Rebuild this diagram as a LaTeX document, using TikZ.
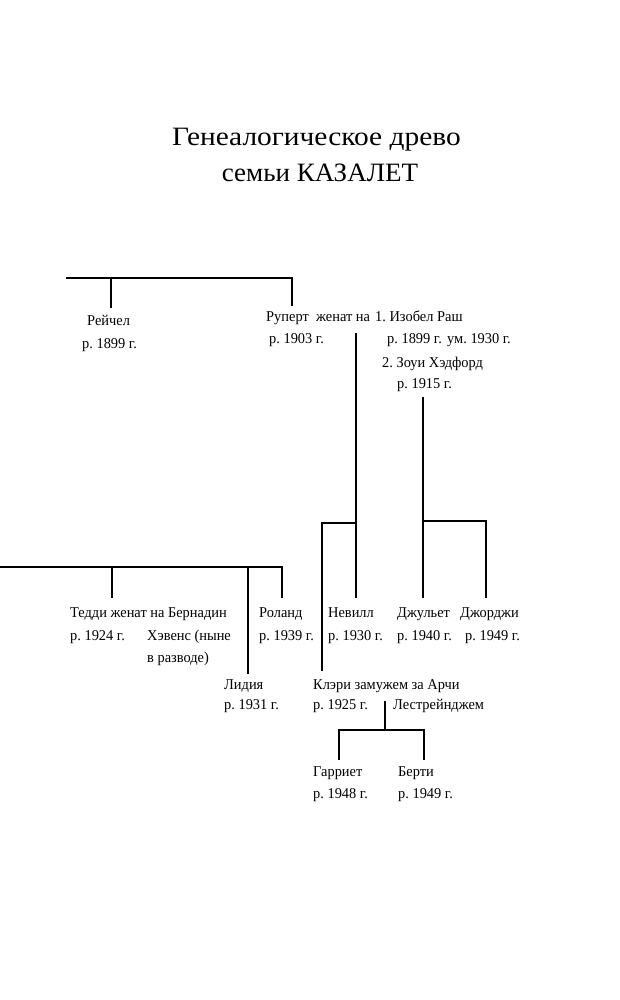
\documentclass[tikz,border=0pt]{standalone}
\usepackage{fontspec}
\setmainfont{Liberation Serif}[FakeStretch=0.96]
\newfontfamily\titlefont{Liberation Serif}[FakeStretch=1.11]
\newfontfamily\titlefontb{Liberation Serif}[FakeStretch=1.02]
\frenchspacing
\begin{document}
\begin{tikzpicture}[x=1pt, y=-1pt,
    txt/.style={anchor=base west, inner sep=0pt, font=\fontsize{15}{18}\selectfont},
    ttl/.style={anchor=base, inner sep=0pt, font=\titlefont\fontsize{26.5}{30}\selectfont},
    ln/.style={line width=2pt}]
            \useasboundingbox (0,0) rectangle (619,1000);

            \node[ttl] (title1) at (316.5,145.7) {Генеалогическое древо};
            \node[ttl, font=\titlefontb\fontsize{26.5}{30}\selectfont] (title2) at (320,182) {семьи КАЗАЛЕТ};

            % first generation
            \node[txt] (rachel) at (87,325) {Рейчел};
            \node[txt] (rachelb) at (82,348) {р. 1899 г.};
            \node[txt] (rupert) at (266,321) {Руперт};
            \node[txt] (rupertm) at (316,321) {женат на};
            \node[txt] (isobel) at (375,321) {1. Изобел Раш};
            \node[txt] (rupertb) at (269,343) {р. 1903 г.};
            \node[txt] (isobelb) at (387,343) {р. 1899 г.};
            \node[txt] (isobeld) at (447,343) {ум. 1930 г.};
            \node[txt] (zoe) at (382,367) {2. Зоуи Хэдфорд};
            \node[txt] (zoeb) at (397,388) {р. 1915 г.};

            \coordinate (g1l) at (66,278);
            \coordinate (rachelup) at (111,308);
            \coordinate (rupertup) at (292,306);
            \draw[ln] (g1l) -| (rupertup);
            \draw[ln] (rachelup |- g1l) -- (rachelup);

            % second generation
            \node[txt] (teddy) at (70,617) {Тедди женат на Бернадин};
            \node[txt] (teddyb) at (70,640) {р. 1924 г.};
            \node[txt] (bern) at (147,640) {Хэвенс (ныне};
            \node[txt] (bern2) at (147,662) {в разводе)};
            \node[txt] (roland) at (259,617) {Роланд};
            \node[txt] (rolandb) at (259,640) {р. 1939 г.};
            \node[txt] (lydia) at (224,689) {Лидия};
            \node[txt] (lydiab) at (224,709) {р. 1931 г.};
            \node[txt] (neville) at (328,617) {Невилл};
            \node[txt] (nevilleb) at (328,640) {р. 1930 г.};
            \node[txt] (juliet) at (397,617) {Джульет};
            \node[txt] (julietb) at (397,640) {р. 1940 г.};
            \node[txt] (georgie) at (460,617) {Джорджи};
            \node[txt] (georgieb) at (465,640) {р. 1949 г.};
            \node[txt] (clary) at (313,689) {Клэри замужем за Арчи};
            \node[txt] (claryb) at (313,709) {р. 1925 г.};
            \node[txt] (archie) at (393,709) {Лестрейнджем};

            \coordinate (g2l) at (0,567);
            \coordinate (teddyup) at (112,598);
            \coordinate (lydiaup) at (248,674);
            \coordinate (rolandup) at (282,598);
            \draw[ln] (g2l) -| (rolandup);
            \draw[ln] (teddyup |- g2l) -- (teddyup);
            \draw[ln] (lydiaup |- g2l) -- (lydiaup);

            \coordinate (isobelc) at (356,333);
            \coordinate (nevilleup) at (356,598);
            \coordinate (claryup) at (322,671);
            \draw[ln] (isobelc) -- (nevilleup);
            \draw[ln] (isobelc |- 0,522.5) -| (claryup);

            \coordinate (zoec) at (422.5,397);
            \coordinate (julietup) at (422.5,598);
            \coordinate (georgieup) at (486,598);
            \draw[ln] (zoec) -- (julietup);
            \draw[ln] (zoec |- 0,521) -| (georgieup);

            % third generation
            \node[txt] (harriet) at (313,776) {Гарриет};
            \node[txt] (harrietb) at (313,798) {р. 1948 г.};
            \node[txt] (bertie) at (398,776) {Берти};
            \node[txt] (bertieb) at (398,798) {р. 1949 г.};

            \coordinate (claryc) at (384.5,701);
            \coordinate (harrietup) at (339,760);
            \coordinate (bertieup) at (423.5,760);
            \draw[ln] (claryc) -- (claryc |- 0,730);
            \draw[ln] (harrietup) |- (claryc |- 0,730) -| (bertieup);

\end{tikzpicture}
\end{document}
